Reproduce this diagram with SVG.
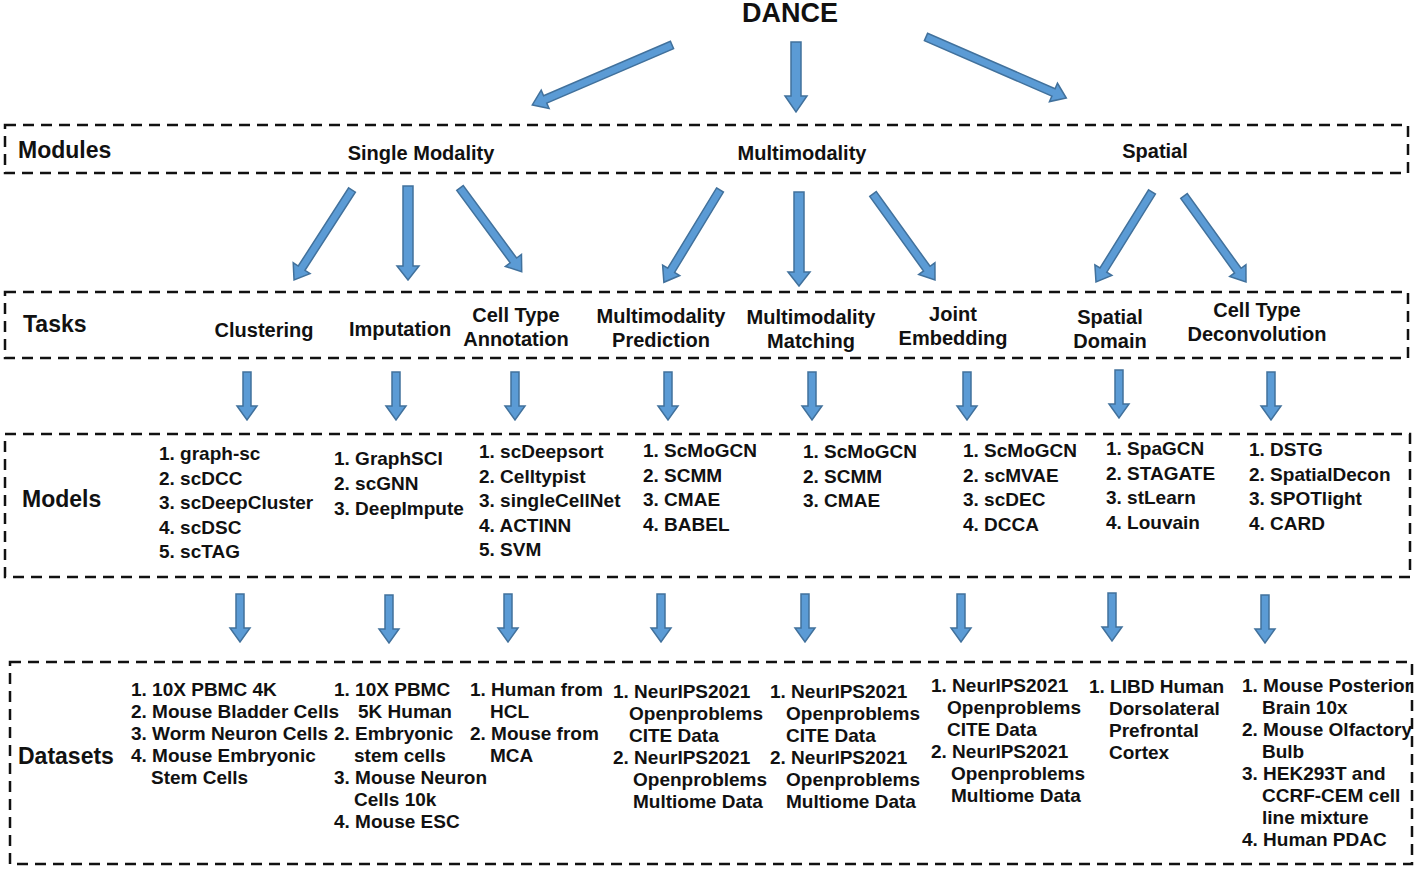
<svg xmlns="http://www.w3.org/2000/svg" width="1416" height="869" viewBox="0 0 1416 869">
<style>
.box{fill:none;stroke:#111;stroke-width:2.5;stroke-dasharray:11 7}
.ar{fill:#5b9bd5;stroke:#41719c;stroke-width:1.5}
text{font-family:"Liberation Sans",Arial,sans-serif;font-weight:bold;fill:#111}
.h{font-size:23px}
.t{font-size:20px}
.i{font-size:19px}
.c{text-anchor:middle}
</style>
<defs>
<path id="a48" d="M-4,0 L4,0 L4,34 L10,34 L0,48 L-10,34 L-4,34 Z"/>
</defs>
<rect width="1416" height="869" fill="#fff"/>
<g id="dance"><text x="790" y="22" class="c" style="font-size:27px">DANCE</text></g>
<g id="modules">
<rect class="box" x="5" y="125" width="1403" height="48"/>
<text x="18" y="158" class="h">Modules</text>
<text x="421" y="160" class="t c">Single Modality</text>
<text x="802" y="160" class="t c">Multimodality</text>
<text x="1155" y="158" class="t c">Spatial</text>
</g>
<g id="tasks">
<rect class="box" x="5" y="292" width="1403" height="66"/>
<text x="23" y="332" class="h">Tasks</text>
<text x="264" y="337" class="t c">Clustering</text>
<text x="400" y="336" class="t c">Imputation</text>
<text x="516" y="322" class="t c">Cell Type</text><text x="516" y="346" class="t c">Annotation</text>
<text x="661" y="323" class="t c">Multimodality</text><text x="661" y="347" class="t c">Prediction</text>
<text x="811" y="324" class="t c">Multimodality</text><text x="811" y="348" class="t c">Matching</text>
<text x="953" y="321" class="t c">Joint</text><text x="953" y="345" class="t c">Embedding</text>
<text x="1110" y="324" class="t c">Spatial</text><text x="1110" y="348" class="t c">Domain</text>
<text x="1257" y="317" class="t c">Cell Type</text><text x="1257" y="341" class="t c">Deconvolution</text>
</g>
<g id="models">
<rect class="box" x="5" y="434" width="1405" height="143"/>
<text x="22" y="507" class="h">Models</text>
<text class="i" x="159" y="460">1. graph-sc<tspan x="159" dy="24.5">2. scDCC</tspan><tspan x="159" dy="24.5">3. scDeepCluster</tspan><tspan x="159" dy="24.5">4. scDSC</tspan><tspan x="159" dy="24.5">5. scTAG</tspan></text>
<text class="i" x="334" y="465">1. GraphSCI<tspan x="334" dy="25">2. scGNN</tspan><tspan x="334" dy="25">3. DeepImpute</tspan></text>
<text class="i" x="479" y="458">1. scDeepsort<tspan x="479" dy="24.5">2. Celltypist</tspan><tspan x="479" dy="24.5">3. singleCellNet</tspan><tspan x="479" dy="24.5">4. ACTINN</tspan><tspan x="479" dy="24.5">5. SVM</tspan></text>
<text class="i" x="643" y="457">1. ScMoGCN<tspan x="643" dy="24.5">2. SCMM</tspan><tspan x="643" dy="24.5">3. CMAE</tspan><tspan x="643" dy="24.5">4. BABEL</tspan></text>
<text class="i" x="803" y="458">1. ScMoGCN<tspan x="803" dy="24.5">2. SCMM</tspan><tspan x="803" dy="24.5">3. CMAE</tspan></text>
<text class="i" x="963" y="457">1. ScMoGCN<tspan x="963" dy="24.5">2. scMVAE</tspan><tspan x="963" dy="24.5">3. scDEC</tspan><tspan x="963" dy="24.5">4. DCCA</tspan></text>
<text class="i" x="1106" y="455">1. SpaGCN<tspan x="1106" dy="24.5">2. STAGATE</tspan><tspan x="1106" dy="24.5">3. stLearn</tspan><tspan x="1106" dy="24.5">4. Louvain</tspan></text>
<text class="i" x="1249" y="456">1. DSTG<tspan x="1249" dy="24.5">2. SpatialDecon</tspan><tspan x="1249" dy="24.5">3. SPOTlight</tspan><tspan x="1249" dy="24.5">4. CARD</tspan></text>
</g>
<g id="datasets">
<rect class="box" x="10" y="662" width="1402" height="202"/>
<text x="18" y="764" class="h">Datasets</text>
<text class="i" x="131" y="696">1. 10X PBMC 4K<tspan x="131" dy="22">2. Mouse Bladder Cells</tspan><tspan x="131" dy="22">3. Worm Neuron Cells</tspan><tspan x="131" dy="22">4. Mouse Embryonic</tspan><tspan x="151" dy="22">Stem Cells</tspan></text>
<text class="i" x="334" y="696">1. 10X PBMC<tspan x="358" dy="22">5K Human</tspan><tspan x="334" dy="22">2. Embryonic</tspan><tspan x="354" dy="22">stem cells</tspan><tspan x="334" dy="22">3. Mouse Neuron</tspan><tspan x="354" dy="22">Cells 10k</tspan><tspan x="334" dy="22">4. Mouse ESC</tspan></text>
<text class="i" x="470" y="696">1. Human from<tspan x="490" dy="22">HCL</tspan><tspan x="470" dy="22">2. Mouse from</tspan><tspan x="490" dy="22">MCA</tspan></text>
<text class="i" x="613" y="698">1. NeurIPS2021<tspan x="629" dy="22">Openproblems</tspan><tspan x="629" dy="22">CITE Data</tspan><tspan x="613" dy="22">2. NeurIPS2021</tspan><tspan x="633" dy="22">Openproblems</tspan><tspan x="633" dy="22">Multiome Data</tspan></text>
<text class="i" x="770" y="698">1. NeurIPS2021<tspan x="786" dy="22">Openproblems</tspan><tspan x="786" dy="22">CITE Data</tspan><tspan x="770" dy="22">2. NeurIPS2021</tspan><tspan x="786" dy="22">Openproblems</tspan><tspan x="786" dy="22">Multiome Data</tspan></text>
<text class="i" x="931" y="692">1. NeurIPS2021<tspan x="947" dy="22">Openproblems</tspan><tspan x="947" dy="22">CITE Data</tspan><tspan x="931" dy="22">2. NeurIPS2021</tspan><tspan x="951" dy="22">Openproblems</tspan><tspan x="951" dy="22">Multiome Data</tspan></text>
<text class="i" x="1089" y="693">1. LIBD Human<tspan x="1109" dy="22">Dorsolateral</tspan><tspan x="1109" dy="22">Prefrontal</tspan><tspan x="1109" dy="22">Cortex</tspan></text>
<text class="i" x="1242" y="692">1. Mouse Posterior<tspan x="1262" dy="22">Brain 10x</tspan><tspan x="1242" dy="22">2. Mouse Olfactory</tspan><tspan x="1262" dy="22">Bulb</tspan><tspan x="1242" dy="22">3. HEK293T and</tspan><tspan x="1262" dy="22">CCRF-CEM cell</tspan><tspan x="1262" dy="22">line mixture</tspan><tspan x="1242" dy="22">4. Human PDAC</tspan></text>
</g>
<g id="connectors" class="ar">
<path transform="translate(672,45) rotate(66.8)" d="M-4,0 L4,0 L4,138 L10,138 L0,152 L-10,138 L-4,138 Z"/>
<path transform="translate(796,42)" d="M-5,0 L5,0 L5,54 L11,54 L0,70 L-11,54 L-5,54 Z"/>
<path transform="translate(926,37) rotate(-66.5)" d="M-4,0 L4,0 L4,139 L10,139 L0,153 L-10,139 L-4,139 Z"/>
<path transform="translate(352,190) rotate(32.8)" d="M-4,0 L4,0 L4,93 L10,93 L0,107 L-10,93 L-4,93 Z"/>
<path transform="translate(408,186)" d="M-5,0 L5,0 L5,80 L11,80 L0,94 L-11,80 L-5,80 Z"/>
<path transform="translate(460,188) rotate(-36.4)" d="M-4,0 L4,0 L4,90 L10,90 L0,104 L-10,90 L-4,90 Z"/>
<path transform="translate(720,190) rotate(31.3)" d="M-4,0 L4,0 L4,94 L10,94 L0,108 L-10,94 L-4,94 Z"/>
<path transform="translate(799,192)" d="M-5,0 L5,0 L5,80 L11,80 L0,94 L-11,80 L-5,80 Z"/>
<path transform="translate(873,194) rotate(-35.8)" d="M-4,0 L4,0 L4,92 L10,92 L0,106 L-10,92 L-4,92 Z"/>
<path transform="translate(1152,192) rotate(31.9)" d="M-4,0 L4,0 L4,92 L10,92 L0,106 L-10,92 L-4,92 Z"/>
<path transform="translate(1184,196) rotate(-35.8)" d="M-4,0 L4,0 L4,92 L10,92 L0,106 L-10,92 L-4,92 Z"/>
<use href="#a48" x="247" y="372"/><use href="#a48" x="396" y="372"/><use href="#a48" x="515" y="372"/><use href="#a48" x="668" y="372"/>
<use href="#a48" x="812" y="372"/><use href="#a48" x="967" y="372"/><use href="#a48" x="1119" y="370"/><use href="#a48" x="1271" y="372"/>
<use href="#a48" x="240" y="594"/><use href="#a48" x="389" y="595"/><use href="#a48" x="508" y="594"/><use href="#a48" x="661" y="594"/>
<use href="#a48" x="805" y="594"/><use href="#a48" x="961" y="594"/><use href="#a48" x="1112" y="593"/><use href="#a48" x="1265" y="595"/>
</g>
</svg>
